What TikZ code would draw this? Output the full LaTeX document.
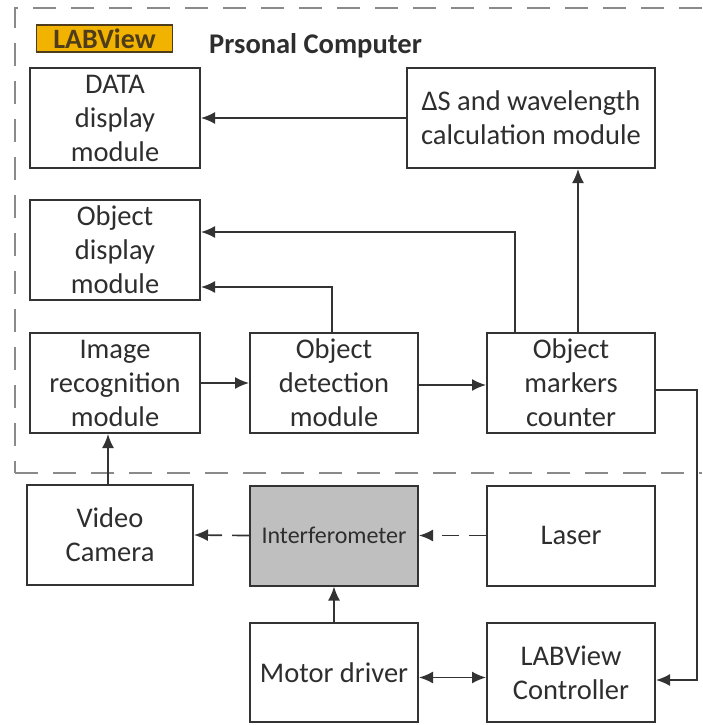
\documentclass[tikz,border=0pt]{standalone}
\usepackage{fontspec}
\setmainfont{Carlito}
\usetikzlibrary{arrows.meta}
\definecolor{txt}{HTML}{2E2E2E}
\definecolor{ln}{HTML}{333333}
\definecolor{dsh}{HTML}{8A8A8A}
\definecolor{lab}{HTML}{F2B300}
\definecolor{labd}{HTML}{4F3C1A}
\definecolor{gry}{HTML}{BFBFBF}
\tikzset{
  blk/.style={draw=ln, line width=2pt, rectangle, inner sep=0pt, align=center,
    text=txt, font=\fontsize{28.5}{34}\selectfont, minimum width=170pt, minimum height=100pt},
  arr/.style={draw=ln, line width=1.7pt, -{Latex[length=14pt,width=12pt]}},
  darr/.style={arr, dash pattern=on 17pt off 10pt},
  bound/.style={draw=dsh, line width=2.6pt, dash pattern=on 23pt off 15pt}
}
\begin{document}
\begin{tikzpicture}[x=1pt,y=-1pt]
\useasboundingbox (0,0) rectangle (702,725);
% PC boundary
\coordinate (tl) at (15,8);
\coordinate (tr) at (702,8);
\coordinate (bl) at (15,473);
\coordinate (br) at (702,473);
\draw[bound] (tr) -- (tl) -- (bl);
\draw[bound] (bl) -- (br);
% labels
\node[draw=labd, line width=1.5pt, fill=lab, minimum width=136pt, minimum height=27pt, inner sep=0pt,
  text=labd, font=\fontsize{28}{30}\selectfont\bfseries] (lv) at (104.5,38.5) {LABView};
\node[anchor=west, text=txt, font=\fontsize{28.5}{30}\selectfont\bfseries, inner sep=0pt] (pc) at (209,46) {Prsonal Computer};
% blocks
\node[blk] (data) at (115,118) {DATA\\display\\module};
\node[blk, minimum width=248pt] (ds) at (531,118) {ΔS and wavelength\\calculation module};
\node[blk] (objdisp) at (115,250) {Object\\display\\module};
\node[blk] (imgrec) at (115,383) {Image\\recognition\\module};
\node[blk, minimum width=168pt] (objdet) at (334,383) {Object\\detection\\module};
\node[blk, minimum width=168pt] (mark) at (571,383) {Object\\markers\\counter};
\node[blk, minimum width=166pt] (cam) at (110,535) {Video\\Camera};
\node[blk, minimum width=168pt, fill=gry, font=\fontsize{24}{30}\selectfont] (intf) at (334,535.5) {Interferometer};
\node[blk, minimum width=168pt] (laser) at (571,535.5) {Laser};
\node[blk, minimum width=168pt, minimum height=99pt] (motor) at (334,672.5) {Motor driver};
\node[blk, minimum width=168pt, minimum height=99pt] (ctrl) at (571,672.5) {LABView\\Controller};
% connectors
\draw[arr] (ds.west) -- (data.east);
\draw[arr] ([xshift=7pt]mark.north) -- ([xshift=7pt]mark.north |- ds.south);
\draw[arr] ([xshift=-56pt]mark.north) |- ([yshift=18pt]objdisp.east);
\draw[arr] ([xshift=-2pt]objdet.north) |- ([yshift=-37pt]objdisp.east);
\draw[arr] (imgrec.east) -- (objdet.west);
\draw[arr] ([yshift=-2pt]objdet.east) -- ([yshift=-2pt]mark.west);
\draw[arr] ([xshift=-2pt]cam.north) -- ([xshift=-2pt]cam.north |- imgrec.south);
\draw[darr] (intf.west) -- (cam.east);
\draw[darr] (laser.west) -- (intf.east);
\draw[arr] (motor.north) -- (intf.south);
\draw[arr, {Latex[length=14pt,width=12pt]}-{Latex[length=14pt,width=12pt]}] ([yshift=-5pt]motor.east) -- ([yshift=-5pt]ctrl.west);
\coordinate (rc) at (697,680);
\draw[arr] ([yshift=-7pt]mark.east) -| (rc) -- (rc -| ctrl.east);
\end{tikzpicture}
\end{document}
